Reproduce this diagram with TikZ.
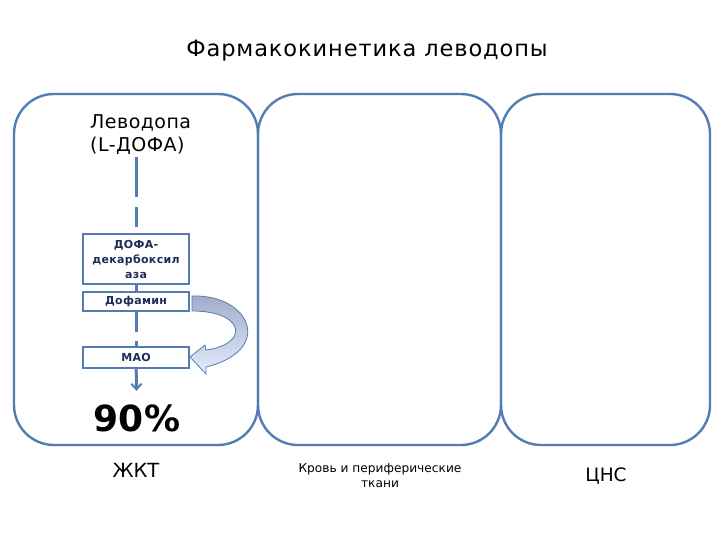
\documentclass[tikz,border=0pt]{standalone}
\usepackage{fontspec}
\setmainfont{DejaVu Sans}
\usetikzlibrary{arrows.meta}
\definecolor{frame}{RGB}{84,124,178}
\definecolor{navy}{RGB}{30,44,88}
\definecolor{arrtop}{RGB}{160,172,200}
\definecolor{arrbot}{RGB}{226,236,252}

\begin{document}
\begin{tikzpicture}[x=1pt, y=-1pt, >={Straight Barb[length=2mm,width=3.6mm,line width=2pt]},
	zone/.style={draw=frame, line width=2.4pt, rounded corners=40pt, minimum height=351pt, inner sep=0pt},
	enz/.style={draw=frame, line width=1.6pt, fill=white, text=navy, font=\fontsize{11}{15}\bfseries\selectfont\addfontfeatures{LetterSpace=3}, minimum width=106pt, minimum height=20pt, align=center, inner sep=1pt},
	flow/.style={frame, line width=3pt, dash pattern=on 20pt off 9pt}]
	\useasboundingbox (0,0) rectangle (720,540);
	\node[font=\fontsize{22.5}{25}\selectfont\addfontfeatures{LetterSpace=4}] (title) at (367,51) {Фармакокинетика леводопы};
	% three compartments
	\node[zone, minimum width=244pt] (gut) at (136,269.5) {};
	\node[zone, minimum width=243pt] (blood) at (379.5,269.5) {};
	\node[zone, minimum width=209pt] (cns) at (605.5,269.5) {};
	% levodopa path in the gut
	\node[anchor=north west, align=left, inner sep=0pt, font=\fontsize{19}{23}\selectfont\addfontfeatures{LetterSpace=2.5}] (ldopa) at (90,114) {Леводопа\\(L-ДОФА)};
	\node[enz, minimum height=50pt] (ddc) at (136,259) {ДОФА-\\декарбоксил\\аза};
	\node[enz, minimum height=19pt] (dof) at (136,301.5) {Дофамин};
	\node[enz, minimum height=21pt] (mao) at (136,357.5) {МАО};
	\node[font=\fontsize{36}{40}\bfseries\selectfont] (pct) at (137,418) {90\%};
	\draw[flow, dash pattern=on 40pt off 10pt on 20pt off 10pt] (ddc.north |- ldopa.south) ++(0,3) -- (ddc.north);
	\draw[flow] (ddc) -- (dof);
	\draw[flow] (dof) -- (mao);
	\draw[flow, solid, ->, shorten >=10pt] (mao) -- (pct);
	% curved arrow dopamine -> MAO
	\draw[draw=frame, line width=0.8pt, top color=arrtop, bottom color=arrbot]
		(192,296) .. controls (250,294) and (275,350) .. (206,367) -- (206,374) -- (190,357)
		-- (205,345) -- (206,350) .. controls (250,344) and (245,311) .. (192,311) -- cycle;
	% captions
	\node[font=\fontsize{19.5}{22}\selectfont] (gutlbl) at (136,470) {ЖКТ};
	\node[font=\fontsize{12.2}{15}\selectfont, align=center] (bloodlbl) at (380,476) {Кровь и периферические\\ткани};
	\node[font=\fontsize{18.5}{22}\selectfont] (cnslbl) at (606,476) {ЦНС};
\end{tikzpicture}
\end{document}
